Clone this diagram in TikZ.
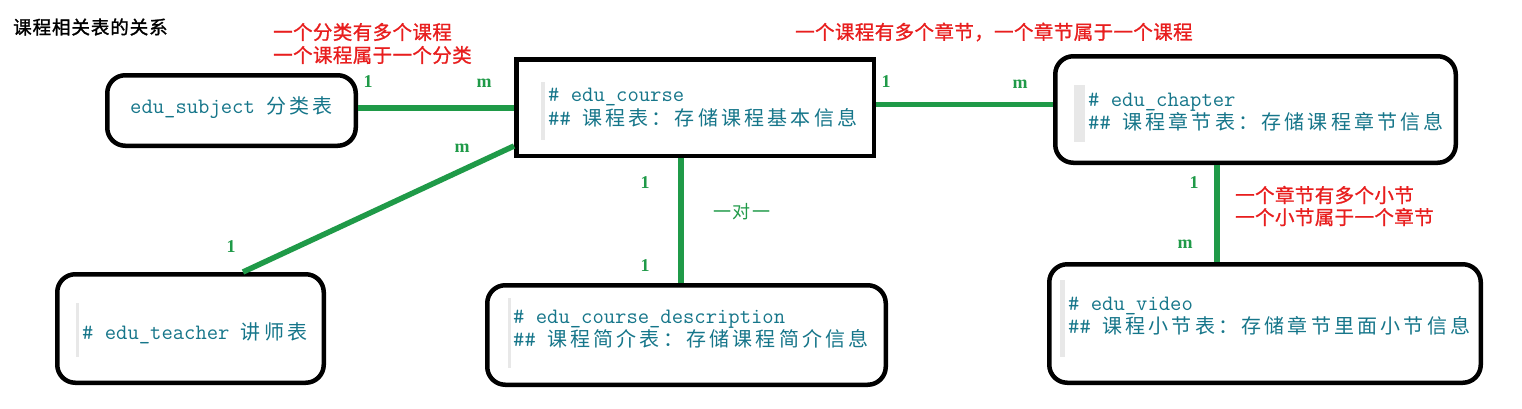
\documentclass[tikz,border=0pt]{standalone}
\usepackage{fontspec}
\setmainfont{Liberation Serif}
\newfontfamily\cjkbox[LetterSpace=16]{Noto Sans CJK SC}
\newfontfamily\cjkred[LetterSpace=2,FakeBold=1]{Noto Sans CJK SC}
\newfontfamily\cjktitle[LetterSpace=5,FakeBold=1.5]{Noto Sans CJK SC}
\newfontfamily\cjkgreen[LetterSpace=8]{Noto Sans CJK SC}
\usetikzlibrary{calc}
\definecolor{tealtext}{RGB}{22,118,138}
\definecolor{redtext}{RGB}{232,30,30}
\definecolor{lgreen}{RGB}{31,154,72}
\definecolor{bargray}{RGB}{232,232,232}
\newcommand\mycj[1]{{\fontsize{20}{21}\cjkbox #1}}
\tikzset{
  tblbox/.style={draw=black, line width=4.5pt, rounded corners=18pt, inner sep=0pt},
  sqbox/.style={draw=black, line width=4.5pt, inner sep=0pt},
  conn/.style={draw=lgreen, line width=5.5pt},
  card/.style={text=lgreen, inner sep=0pt, font=\fontsize{18}{18}\selectfont\bfseries},
  tline/.style={anchor=west, inner sep=0pt, text=tealtext, font=\fontsize{22}{21}\ttfamily},
  redline/.style={anchor=west, inner sep=0pt, text=redtext, font=\fontsize{19.5}{21}\cjkred},
}
\begin{document}
\begin{tikzpicture}[x=1pt,y=-1pt]
\useasboundingbox (0,0) rectangle (1522,408);
\fill[white] (0,0) rectangle (1522,408);

% title and red notes
\node[anchor=west, inner sep=0pt, font=\fontsize{18.5}{20}\cjktitle] (title) at (13,27) {课程相关表的关系};
\node[redline] (r1) at (273,32) {一个分类有多个课程};
\node[redline] (r2) at (273,55) {一个课程属于一个分类};
\node[redline] (r3) at (795,32) {一个课程有多个章节，一个章节属于一个课程};
\node[redline] (r4) at (1235,195) {一个章节有多个小节};
\node[redline] (r5) at (1235,217) {一个小节属于一个章节};

% boxes
\node[tblbox, minimum width=248.5pt, minimum height=70.5pt] (subject) at (231.5,110.5) {};
\node[sqbox, minimum width=357.5pt, minimum height=96.5pt] (course) at (695,107.5) {};
\node[tblbox, minimum width=400.5pt, minimum height=106.5pt] (chapter) at (1255.5,109.5) {};
\node[tblbox, minimum width=431.5pt, minimum height=118.5pt] (video) at (1265,323.5) {};
\node[tblbox, minimum width=266.5pt, minimum height=108.5pt] (teacher) at (190.5,328.5) {};
\node[tblbox, minimum width=398.5pt, minimum height=99.5pt] (desc) at (686.5,335) {};

% gray quote bars
\fill[bargray] (541,82) rectangle (545,140);
\fill[bargray] (1074,85) rectangle (1085,142);
\fill[bargray] (1060,280) rectangle (1065,357);
\fill[bargray] (76,303) rectangle (79,357);
\fill[bargray] (508,298) rectangle (511,368);

% box texts
\node[tline] (tsub) at (130,108) {edu\_subject \mycj{分类表}};
\node[tline] (tc1) at (548,97) {\#~edu\_course};
\node[tline] (tc2) at (548,118) {\#\#~\mycj{课程表：存储课程基本信息}};
\node[tline] (tch1) at (1088,102) {\#~edu\_chapter};
\node[tline] (tch2) at (1088,122) {\#\#~\mycj{课程章节表：存储课程章节信息}};
\node[tline] (tv1) at (1068,306) {\#~edu\_video};
\node[tline] (tv2) at (1068,326) {\#\#~\mycj{课程小节表：存储章节里面小节信息}};
\node[tline] (tt) at (82,333) {\#~edu\_teacher \mycj{讲师表}};
\node[tline] (td1) at (513,319) {\#~edu\_course\_description};
\node[tline] (td2) at (513,339) {\#\#~\mycj{课程简介表：存储课程简介信息}};

% connectors
\coordinate (c1) at ($(subject.east)+(0,-2.5)$);
\draw[conn] (c1) -- (c1 -| course.west);
\coordinate (c2) at ($(course.east)+(0,-3)$);
\draw[conn] (c2) -- (c2 -| chapter.west);
\coordinate (c3) at ($(course.south)+(-14,0)$);
\draw[conn] (c3) -- (c3 |- desc.north);
\coordinate (c4) at ($(chapter.south)+(-38.5,0)$);
\draw[conn] (c4) -- (c4 |- video.north);
\coordinate (c5) at ($(course.south west)+(0,-12)$);
\coordinate (c6) at ($(teacher.north west)+(188,0)$);
\draw[conn] (c5) -- (c6);

% cardinality labels
\node[card] (l1) at (368,82) {1};
\node[card] (l2) at (484,83) {m};
\node[card] (l3) at (462,148) {m};
\node[card] (l4) at (231,247) {1};
\node[card] (l5) at (645,183) {1};
\node[card] (l6) at (645,266) {1};
\node[card] (l7) at (886,82) {1};
\node[card] (l8) at (1020,84) {m};
\node[card] (l9) at (1194,183) {1};
\node[card] (l10) at (1185,244) {m};
\node[anchor=west, inner sep=0pt, text=lgreen, font=\fontsize{18}{20}\cjkgreen] (oto) at (713,212) {一对一};
\end{tikzpicture}
\end{document}
